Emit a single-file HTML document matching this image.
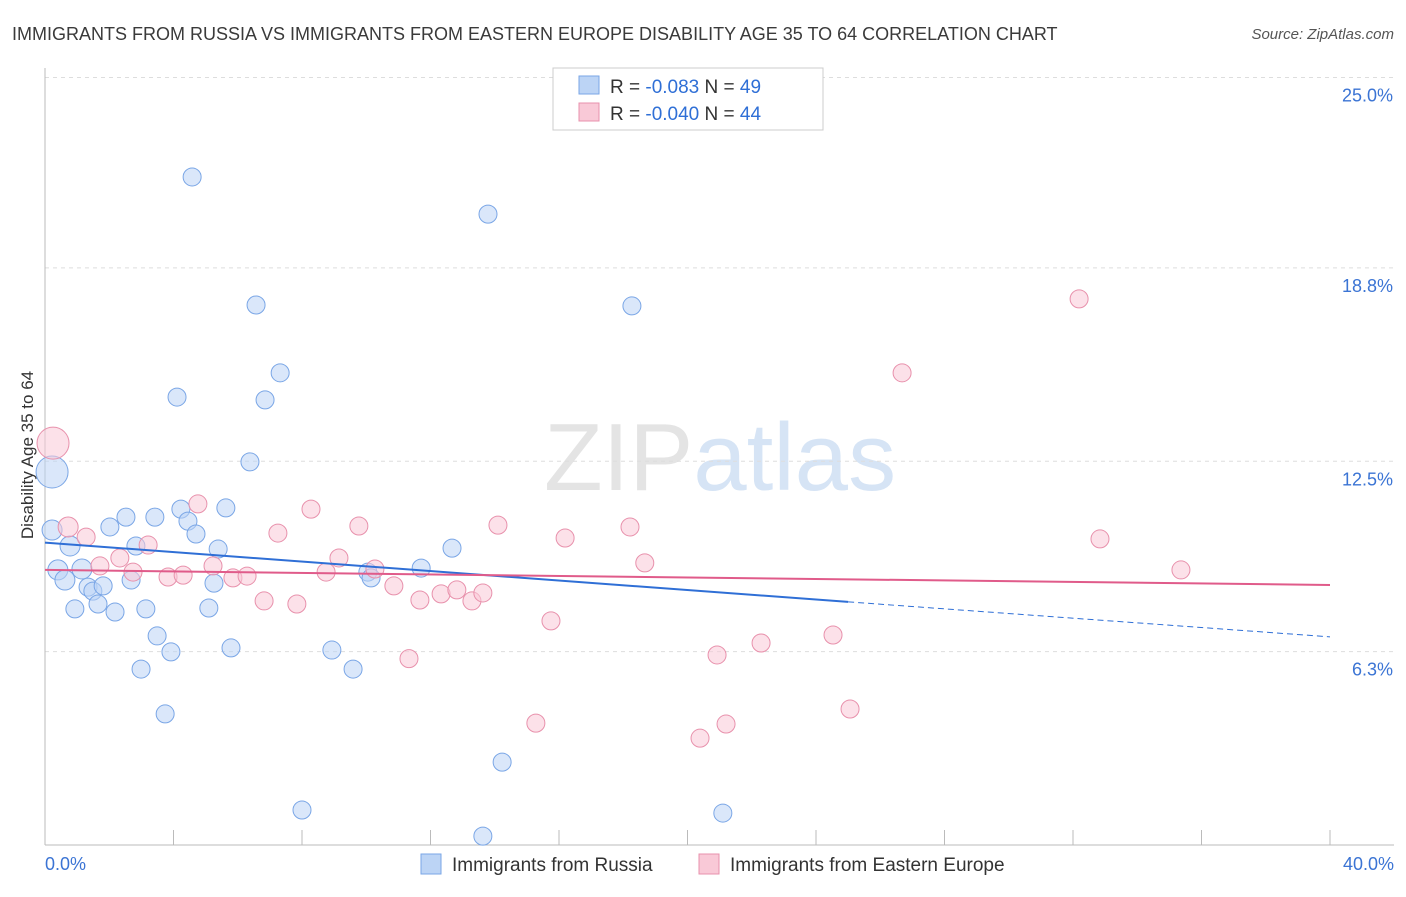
<!DOCTYPE html>
<html><head><meta charset="utf-8"><style>
body{margin:0;background:#fff;font-family:"Liberation Sans",sans-serif}
svg text{font-family:"Liberation Sans",sans-serif}
</style></head><body>
<svg id="chart" width="1406" height="892" xmlns="http://www.w3.org/2000/svg">
<text x="12" y="40" font-size="18" fill="#3a3a3a">IMMIGRANTS FROM RUSSIA VS IMMIGRANTS FROM EASTERN EUROPE DISABILITY AGE 35 TO 64 CORRELATION CHART</text>
<text x="1394" y="39" font-size="15" fill="#555" text-anchor="end" font-style="italic">Source: ZipAtlas.com</text>
<text x="720" y="490" font-size="96" text-anchor="middle" fill="#e4e4e4" font-family="Liberation Serif">ZIP<tspan fill="#d6e4f5" font-family="Liberation Sans">atlas</tspan></text>
<g id="grid"></g><g id="marks"></g>
<text transform="translate(33,455) rotate(-90)" font-size="17" fill="#333" text-anchor="middle">Disability Age 35 to 64</text>
<g>
<rect x="553" y="68" width="270" height="62" fill="#fff" stroke="#ccc"/>
<rect x="579" y="76" width="20" height="18" fill="#bcd4f5" stroke="#7aa6e6"/>
<rect x="579" y="103" width="20" height="18" fill="#f9c9d7" stroke="#e891ac"/>
<text x="610" y="93" font-size="19" fill="#333">R = <tspan fill="#2f6fd6">-0.083</tspan>   N = <tspan fill="#2f6fd6">49</tspan></text>
<text x="610" y="120" font-size="19" fill="#333">R = <tspan fill="#2f6fd6">-0.040</tspan>   N = <tspan fill="#2f6fd6">44</tspan></text>
</g>
<g>
<rect x="421" y="854" width="20" height="20" fill="#bcd4f5" stroke="#7aa6e6"/>
<text x="452" y="871" font-size="19" fill="#333">Immigrants from Russia</text>
<rect x="699" y="854" width="20" height="20" fill="#f9c9d7" stroke="#e891ac"/>
<text x="730" y="871" font-size="19" fill="#333">Immigrants from Eastern Europe</text>
</g>
</svg>
<script>
const yTicks=[25.0,18.8,12.5,6.3];
const yTickLabels=["25.0%","18.8%","12.5%","6.3%"];
const xTickLabels=["0.0%","40.0%"];
const russiaX=[0.22,0.40,0.62,0.78,0.93,1.15,1.34,1.49,1.65,1.81,2.02,2.18,2.52,2.68,2.83,2.99,3.14,3.42,3.49,3.74,3.92,4.11,4.23,4.45,4.58,4.70,5.10,5.26,5.39,5.63,5.79,6.38,6.57,6.85,7.32,8.00,8.93,9.59,10.05,10.15,11.71,12.67,13.63,13.79,14.23,18.27,21.10,0.22];
const russiaY=[10.26,8.96,8.63,9.74,7.69,8.99,8.40,8.27,7.85,8.44,10.36,7.59,10.68,8.63,9.74,5.73,7.69,10.68,6.81,4.27,6.29,14.59,10.94,10.55,21.76,10.13,7.72,8.53,9.64,10.98,6.42,12.48,17.59,14.50,15.38,1.14,6.35,5.73,8.89,8.70,9.02,9.67,0.29,20.55,2.70,17.56,1.04,12.15];
const russiaR=[10,10,10,10,9,10,9,9,9,9,9,9,9,9,9,9,9,9,9,9,9,9,9,9,9,9,9,9,9,9,9,9,9,9,9,9,9,9,9,9,9,9,9,9,9,9,9,16];
const eeX=[0.25,0.72,1.28,1.71,2.33,2.74,3.21,3.83,4.30,4.76,5.23,5.85,6.29,6.82,7.25,7.84,8.28,8.75,9.15,9.77,10.27,10.86,11.33,11.67,12.33,12.82,13.29,13.63,14.10,15.28,15.75,16.19,18.21,18.67,20.39,20.92,21.20,22.29,24.53,25.06,26.68,32.19,32.84,35.36];
const eeY=[13.09,10.36,10.03,9.09,9.35,8.89,9.77,8.73,8.79,11.11,9.09,8.70,8.76,7.95,10.16,7.85,10.94,8.89,9.35,10.39,8.99,8.44,6.07,7.98,8.18,8.31,7.95,8.21,10.42,3.97,7.30,10.00,10.36,9.19,3.48,6.19,3.94,6.58,6.84,4.43,15.38,17.79,9.97,8.96];
const eeR=[16,10,9,9,9,9,9,9,9,9,9,9,9,9,9,9,9,9,9,9,9,9,9,9,9,9,9,9,9,9,9,9,9,9,9,9,9,9,9,9,9,9,9,9];
const blueTrend=[[0,9.85],[25,7.92],[40,6.78]];
const pinkTrend=[[0,8.96],[40,8.47]];
const NS="http://www.w3.org/2000/svg";
const X=v=>45+v*32.125, Y=v=>845-v*30.7;
const grid=document.getElementById('grid'), marks=document.getElementById('marks');
function mk(tag,attrs,parent){const e=document.createElementNS(NS,tag);for(const k in attrs)e.setAttribute(k,attrs[k]);parent.appendChild(e);return e;}
yTicks.forEach((t,i)=>{
 const l=mk('line',{x1:45,x2:1394,y1:Y(t),y2:Y(t),stroke:'#ddd','stroke-dasharray':'4,4'},grid);
 
 
 const tx=mk('text',{x:1393,y:Y(t)+24,'font-size':18,fill:'#3b74d4','text-anchor':'end'},grid);
 tx.textContent=yTickLabels[i];
 
 
});
const ax=mk('line',{x1:45,x2:45,y1:68,y2:845,stroke:'#bbb'},grid);


const bx=mk('line',{x1:45,x2:1394,y1:845,y2:845,stroke:'#bbb'},grid);


for(let i=0;i<=10;i++){const t=mk('line',{x1:X(i*4),x2:X(i*4),y1:830,y2:845,stroke:'#bbb'},grid);
 
 }
[[0,'start',45],[40,'end',1394]].forEach((d,i)=>{const t=mk('text',{x:d[2],y:870,'font-size':18,fill:'#3b74d4','text-anchor':d[1]},grid);t.textContent=xTickLabels[i];
 
 });
function dots(xs,ys,rs,fill,stroke,name){xs.forEach((x,i)=>{const c=mk('circle',{cx:X(x),cy:Y(ys[i]),r:rs[i],fill:fill,stroke:stroke,'stroke-width':1,'fill-opacity':0.55},marks);
 
 });}
dots(russiaX,russiaY,russiaR,'#bcd4f5','#7aa6e6','russia-point');
dots(eeX,eeY,eeR,'#f9c9d7','#e891ac','eastern-europe-point');
const b1=mk('line',{x1:X(blueTrend[0][0]),y1:Y(blueTrend[0][1]),x2:X(blueTrend[1][0]),y2:Y(blueTrend[1][1]),stroke:'#2f6fd6','stroke-width':2},marks);


const b2=mk('line',{x1:X(blueTrend[1][0]),y1:Y(blueTrend[1][1]),x2:X(blueTrend[2][0]),y2:Y(blueTrend[2][1]),stroke:'#2f6fd6','stroke-width':1,'stroke-dasharray':'6,4'},marks);


const p1=mk('line',{x1:X(pinkTrend[0][0]),y1:Y(pinkTrend[0][1]),x2:X(pinkTrend[1][0]),y2:Y(pinkTrend[1][1]),stroke:'#e05b8a','stroke-width':2},marks);


</script>
</body></html>
